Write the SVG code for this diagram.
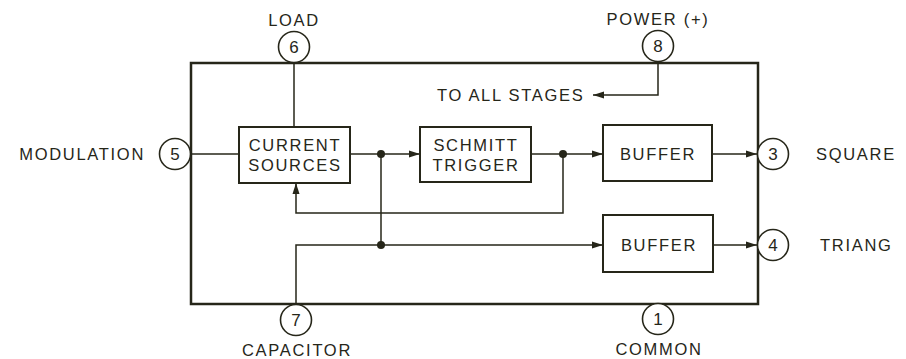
<svg xmlns="http://www.w3.org/2000/svg" width="906" height="359" viewBox="0 0 906 359">
<style>
.t{font-family:"Liberation Sans",Arial,sans-serif;font-size:16.5px;letter-spacing:1.7px;fill:#262619}
.n{font-family:"Liberation Sans",Arial,sans-serif;font-size:17px;fill:#262619;text-anchor:middle}
.m{text-anchor:middle}
.blk{fill:#fff;stroke:#262619;stroke-width:2}
.pin{fill:#fff;stroke:#262619;stroke-width:1.6}
.w{fill:none;stroke:#262619;stroke-width:1.5}
.dot{fill:#262619}
</style>
<defs>
<marker id="ah" markerUnits="userSpaceOnUse" markerWidth="11" markerHeight="8" refX="11" refY="4" orient="auto">
<path d="M0,0.5 L11,4 L0,7.5 z" fill="#262619"/>
</marker>
</defs>
<rect id="chip" x="191" y="63" width="567" height="241" fill="none" stroke="#262619" stroke-width="2.5"/>
<g id="connectors">
<path class="w" d="M294,63 V127"/>
<path class="w" d="M191,154 H239"/>
<path class="w" d="M350,154 H420" marker-end="url(#ah)"/>
<path class="w" d="M381,154 V245"/>
<path class="w" d="M531,154 H603" marker-end="url(#ah)"/>
<path class="w" d="M563,154 V213 H296 V183" marker-end="url(#ah)"/>
<path class="w" d="M296,304 V245 H603" marker-end="url(#ah)"/>
<path class="w" d="M712,154 H757" marker-end="url(#ah)"/>
<path class="w" d="M713,245 H757" marker-end="url(#ah)"/>
<path class="w" d="M658,62 V95 H593" marker-end="url(#ah)"/>
<circle class="dot" cx="381" cy="154" r="4"/>
<circle class="dot" cx="381" cy="245" r="4"/>
<circle class="dot" cx="563" cy="154" r="4"/>
</g>
<g id="current_sources">
<rect class="blk" x="239" y="127" width="111" height="56"/>
<text class="t m" x="295" y="151">CURRENT</text>
<text class="t m" x="295" y="171">SOURCES</text>
</g>
<g id="schmitt_trigger">
<rect class="blk" x="420" y="127" width="111" height="55"/>
<text class="t m" x="476" y="151">SCHMITT</text>
<text class="t m" x="476" y="171">TRIGGER</text>
</g>
<g id="buffer1">
<rect class="blk" x="603" y="125" width="109" height="56"/>
<text class="t m" x="658" y="160">BUFFER</text>
</g>
<g id="buffer2">
<rect class="blk" x="603" y="215" width="110" height="57"/>
<text class="t m" x="659" y="251">BUFFER</text>
</g>
<g id="to_all_stages">
<text class="t" x="437" y="101">TO ALL STAGES</text>
</g>
<g id="pin6">
<circle class="pin" cx="294" cy="47" r="15.5"/>
<text class="n" x="294" y="53">6</text>
<text class="t m" x="294" y="26">LOAD</text>
</g>
<g id="pin8">
<circle class="pin" cx="658" cy="46" r="15.5"/>
<text class="n" x="658" y="52">8</text>
<text class="t m" x="658" y="25">POWER (+)</text>
</g>
<g id="pin5">
<circle class="pin" cx="175" cy="154" r="15.5"/>
<text class="n" x="175" y="160">5</text>
<text class="t" x="145" y="160" text-anchor="end">MODULATION</text>
</g>
<g id="pin3">
<circle class="pin" cx="773" cy="154" r="15.5"/>
<text class="n" x="773" y="160">3</text>
<text class="t" x="816" y="160">SQUARE</text>
</g>
<g id="pin4">
<circle class="pin" cx="773" cy="245" r="15.5"/>
<text class="n" x="773" y="251">4</text>
<text class="t" x="820" y="251">TRIANG</text>
</g>
<g id="pin7">
<circle class="pin" cx="296" cy="320" r="15.5"/>
<text class="n" x="296" y="326">7</text>
<text class="t m" x="297" y="356">CAPACITOR</text>
</g>
<g id="pin1">
<circle class="pin" cx="658" cy="319" r="15.5"/>
<text class="n" x="658" y="325">1</text>
<text class="t m" x="659" y="355">COMMON</text>
</g>
</svg>
